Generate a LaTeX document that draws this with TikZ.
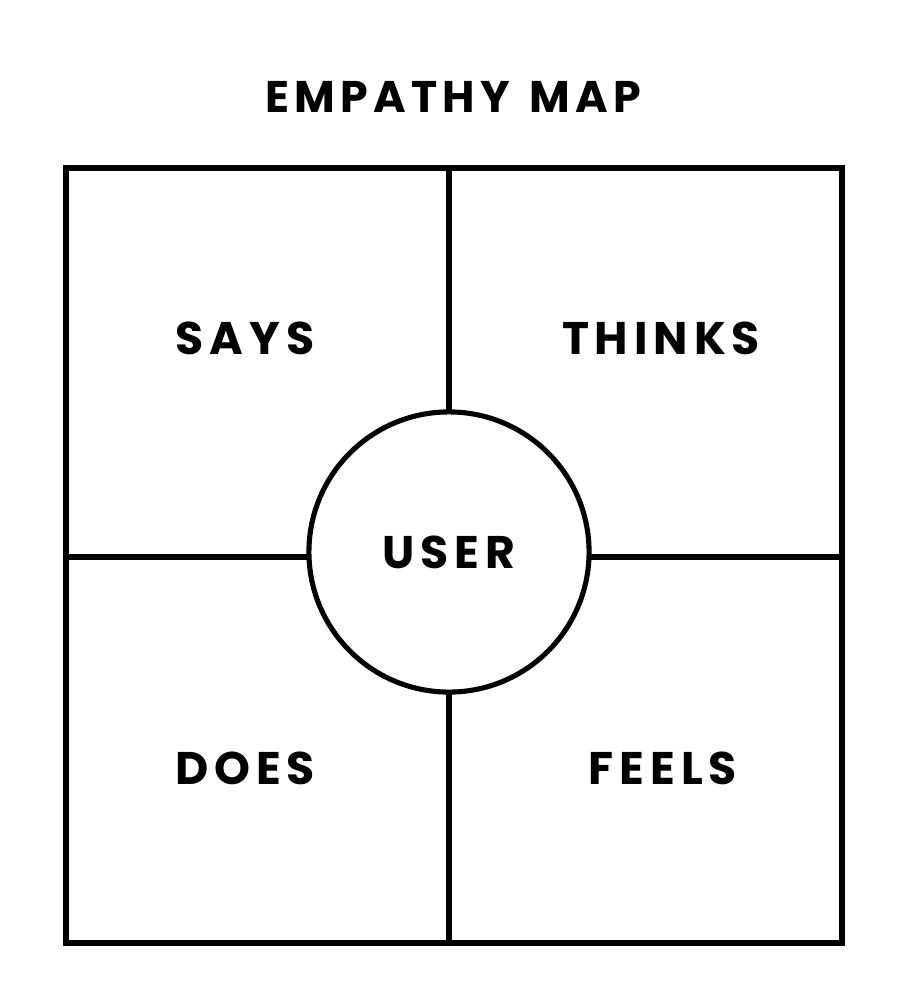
\documentclass[tikz,border=0pt]{standalone}
\usepackage{fontspec}
\setmainfont{Poppins}
\newfontfamily\labelfont[LetterSpace=13]{Poppins}
\newfontfamily\titlefont[LetterSpace=12]{Poppins}

\tikzset{
  quadlabel/.style={font=\labelfont\bfseries\fontsize{13}{15}\selectfont},
  mapline/.style={line width=1.7pt},
}

\begin{document}
\begin{tikzpicture}[x=0.01cm, y=-0.01cm, line cap=rect, line join=miter]
    \useasboundingbox (0,0) rectangle (922,982);
    % frame and its mid points
    \coordinate (tl) at (66,168);
    \coordinate (br) at (842,943);
    \coordinate (top) at (449,168);
    \coordinate (bottom) at (449,943);
    \coordinate (left) at (66,557);
    \coordinate (right) at (842,557);
    \draw[mapline] (tl) rectangle (br);
    \draw[mapline] (top) -- (bottom);
    \draw[mapline] (left) -- (right);
    % centre circle
    \node[circle, draw, line width=1.45pt, fill=white, minimum size=2.8cm,
          inner sep=0pt, font=\labelfont\bfseries\fontsize{13}{15}\selectfont] (user) at (449,552) {USER};
    \node[font=\titlefont\bfseries\fontsize{12.6}{14}\selectfont] (title) at (453,97) {EMPATHY\ \hspace{0.1em}MAP};
    \node[quadlabel] (says) at (245,338) {SAYS};
    \node[quadlabel] (thinks) at (661,338) {THINKS};
    \node[quadlabel] (does) at (245,768) {DOES};
    \node[quadlabel] (feels) at (663,768) {FEELS};
  \end{tikzpicture}
\end{document}
